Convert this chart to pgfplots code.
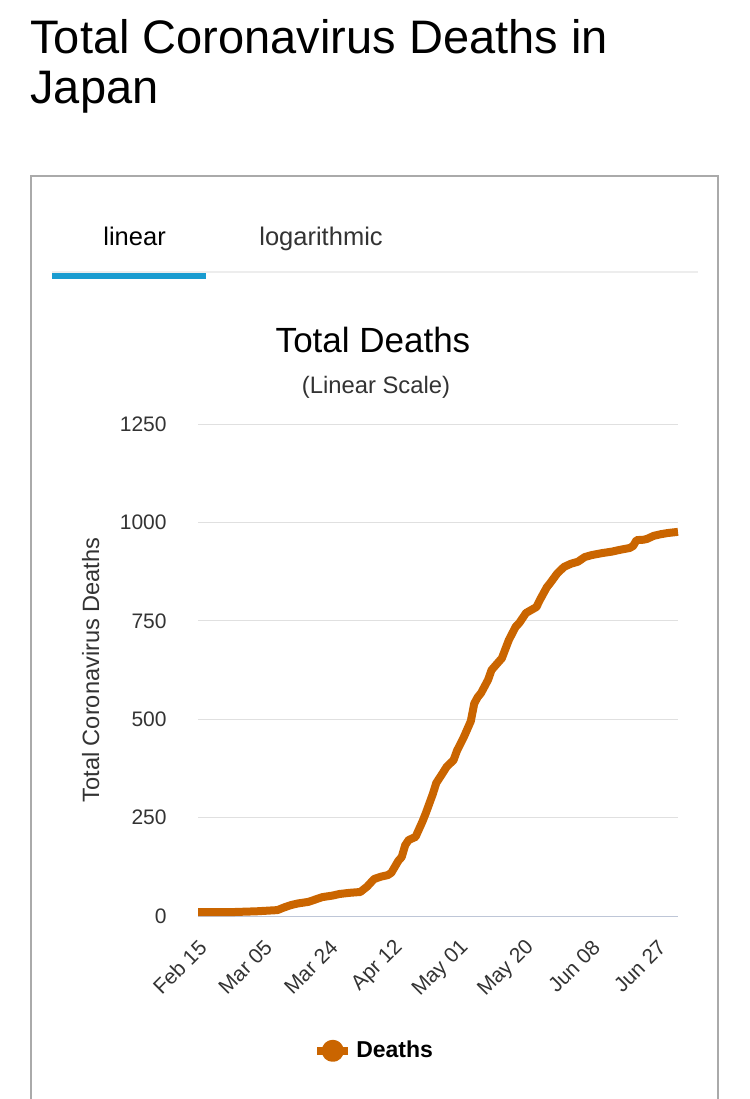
\documentclass[border=0pt]{standalone}
\usepackage{pgfplots}
\pgfplotsset{compat=1.18}
\usepackage{fontspec}
\setmainfont{Liberation Sans}
\definecolor{lineor}{RGB}{202,101,0}
\definecolor{tabblue}{RGB}{26,156,208}
\definecolor{gridc}{RGB}{224,224,224}
\definecolor{axisc}{RGB}{190,198,215}
\definecolor{boxc}{RGB}{170,170,170}
\definecolor{txt}{RGB}{51,51,51}
\begin{document}
\begin{tikzpicture}
\useasboundingbox (0,0) rectangle (375pt,-549.5pt);
\node[anchor=base west, inner sep=0pt, font=\fontsize{23.5pt}{28pt}\selectfont] at (15pt,-26.5pt) {Total Coronavirus Deaths in};
\node[anchor=base west, inner sep=0pt, font=\fontsize{23.5pt}{28pt}\selectfont] at (15pt,-51.5pt) {Japan};
\draw[boxc, line width=0.75pt] (15.5pt,-549.5pt) -- (15.5pt,-88pt) -- (359pt,-88pt) -- (359pt,-549.5pt);
\draw[black!7, line width=0.6pt] (26pt,-136pt) -- (349pt,-136pt);
\fill[tabblue] (26pt,-136.5pt) rectangle (103pt,-139.5pt);
\node[anchor=base west, inner sep=0pt, font=\fontsize{12.75pt}{15pt}\selectfont] at (51.5pt,-122.5pt) {linear};
\node[anchor=base west, inner sep=0pt, text=txt, font=\fontsize{12.75pt}{15pt}\selectfont] at (129.5pt,-122.5pt) {logarithmic};
\node[anchor=base, inner sep=0pt, font=\fontsize{17.5pt}{21pt}\selectfont] at (186.5pt,-176pt) {Total Deaths};
\node[anchor=base, inner sep=0pt, text=txt, font=\fontsize{11.9pt}{14pt}\selectfont] at (188pt,-196.5pt) {(Linear Scale)};
\begin{axis}[
  at={(99pt,-458pt)}, anchor=south west,
  scale only axis, width=240pt, height=246pt,
  xmin=0, xmax=139, ymin=0, ymax=1250,
  ytick={0,250,500,750,1000,1250},
  xtick={0,19,38,57,76,95,114,133},
  xticklabels={Feb 15,Mar 05,Mar 24,Apr 12,May 01,May 20,Jun 08,Jun 27},
  axis x line*=bottom, axis y line*=left,
  x axis line style={-, draw=axisc, line width=0.5pt},
  y axis line style={draw=none},
  major tick length=0pt,
  ymajorgrids, major grid style={gridc, line width=0.5pt},
  /pgf/number format/assume math mode=true,
  /pgf/number format/1000 sep={},
  tick label style={text=txt, font=\fontsize{10.5pt}{12pt}\selectfont},
  yticklabel style={anchor=east, inner sep=0pt, xshift=-15.5pt},
  xticklabel style={xshift=2.5pt, yshift=-14pt, rotate=45, anchor=east, inner sep=0pt},
  ylabel={Total Coronavirus Deaths},
  ylabel style={at={(axis description cs:-0.206,0.5)}, anchor=base, inner sep=0pt, text=txt, font=\fontsize{11.8pt}{14pt}\selectfont},
  clip=false,
  legend style={at={(axis description cs:0.369,-0.274)}, anchor=center, draw=none, fill=none,
    font=\bfseries\fontsize{11.5pt}{13pt}\selectfont},
  legend image code/.code={\draw[lineor, line width=4pt] (0pt,0pt) -- (15.5pt,0pt); \fill[lineor] (7.75pt,0pt) circle (3.5pt);},
]
\addplot[lineor, line width=4pt, line join=round] coordinates {
(0,10) (5,10) (10,10) (17,12) (23,15) (25,22) (27,28) (29,32) (32,36) (34,42)
(36,48) (39,52) (41,56) (44,59) (47,61) (49,75) (51,94) (53,100) (55,104) (56,110)
(58,140) (59,150) (60,180) (61,193) (63,201) (65,240) (66,262) (68,310) (69,338) (71,365)
(72,379) (74,396) (75,420) (77,455) (79,495) (80,540) (81,556) (82,567) (84,600) (85,625)
(87,645) (88,655) (90,701) (92,735) (93,744) (95,770) (96,775) (98,785) (99,803) (101,835)
(102,846) (104,870) (106,887) (108,895) (110,900) (112,912) (114,917) (117,922) (120,926) (122,930)
(125,935) (126,940) (127,955) (129,956) (130,958) (132,966) (134,970) (136,973) (139,976)
};
\addlegendentry{Deaths}
\end{axis}
\end{tikzpicture}
\end{document}
